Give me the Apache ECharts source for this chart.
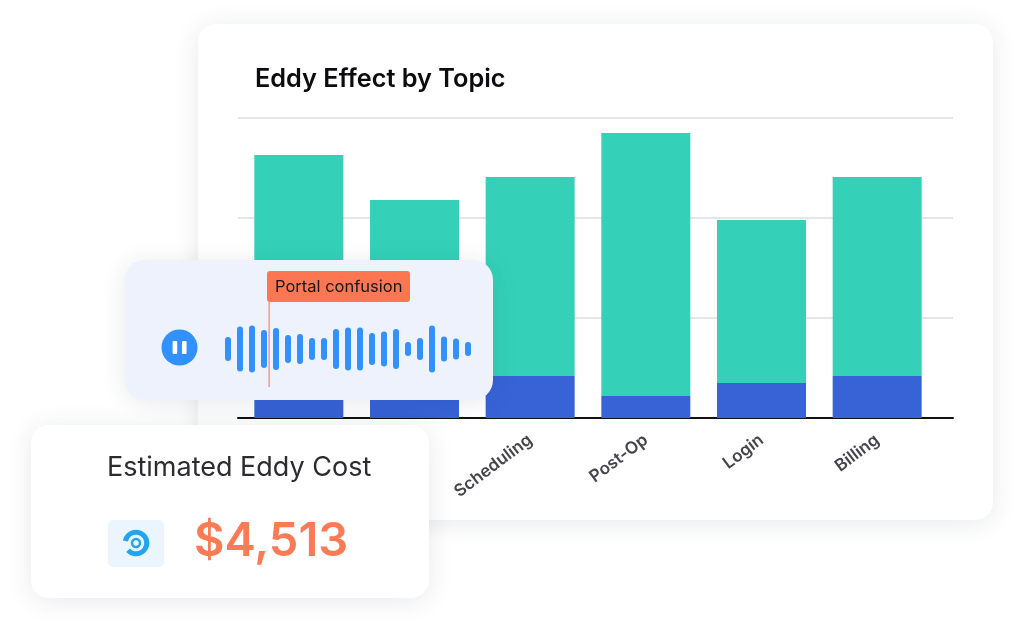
<!DOCTYPE html>
<html><head><meta charset="utf-8">
<style>html,body{margin:0;padding:0;background:#fff}#c{width:1024px;height:622px}</style>
<script src="https://cdn.jsdelivr.net/npm/echarts@6/dist/echarts.min.js"></script>
</head><body><div id="c"></div>
<script>
const categories = ['', '', 'Scheduling', 'Post-Op', 'Login', 'Billing'];
const blueValues = [3.6, 3.6, 8.4, 4.4, 7.0, 8.4];
const tealValues = [49.0, 40.0, 39.8, 52.6, 32.6, 39.8];
const yTicks = [0, 20, 40, 60];
const waveValues = [24,45,47,38,42,28,30,22,22,40,43,43,32,35,40,14,22,47,25,21,14];
const waveSlots = waveValues.map((_, i) => String(i));
const FONT = 'Inter';
const shadow = {shadowBlur: 26, shadowColor: 'rgba(30,40,70,0.10)', shadowOffsetY: 3};

const chart = echarts.init(document.getElementById('c'), null, {renderer: 'canvas'});
chart.setOption({
  animation: false,
  grid: [
    {left: 238, top: 118, width: 715, height: 300},
    {left: 241, top: 118, width: 694, height: 300},
    {left: 222, top: 319, width: 252, height: 60}
  ],
  xAxis: [
    {gridIndex: 0, type: 'category', data: [], axisTick: {show: false}, axisLabel: {show: false},
     axisLine: {lineStyle: {color: '#111', width: 2}}},
    {gridIndex: 1, type: 'category', data: categories, axisTick: {show: false}, axisLine: {show: false},
     axisLabel: {rotate: 37, margin: 20, fontFamily: FONT, fontSize: 17, fontWeight: 600, color: '#45454d', interval: 0}},
    {gridIndex: 2, type: 'category', data: waveSlots, show: false}
  ],
  yAxis: [
    {gridIndex: 0, type: 'value', min: yTicks[0], max: yTicks[3], interval: yTicks[1],
     axisLabel: {show: false}, axisLine: {show: false}, axisTick: {show: false},
     splitLine: {lineStyle: {color: '#e6e6e8', width: 2}}},
    {gridIndex: 1, type: 'value', min: yTicks[0], max: yTicks[3], interval: yTicks[1], show: false, splitLine: {show: false}},
    {gridIndex: 2, type: 'value', min: -30, max: 30, show: false, splitLine: {show: false}}
  ],
  series: [
    {type: 'bar', xAxisIndex: 1, yAxisIndex: 1, stack: 'a', data: blueValues, barWidth: 89, itemStyle: {color: '#3763d6'}, z: 3},
    {type: 'bar', xAxisIndex: 1, yAxisIndex: 1, stack: 'a', data: tealValues, barWidth: 89, itemStyle: {color: '#34d1b8'}, z: 3},
    {type: 'custom', xAxisIndex: 2, yAxisIndex: 2, data: waveValues.map((v, i) => [i, v]), z: 120,
     encode: {x: 0, y: 1},
     renderItem(params, api) {
       const h = api.value(1);
       const top = api.coord([api.value(0), h / 2]);
       const bottom = api.coord([api.value(0), -h / 2]);
       return {type: 'rect', shape: {x: top[0] - 3, y: top[1], width: 6, height: bottom[1] - top[1], r: 3},
               style: {fill: '#3091ff'}};
     }}
  ],
  graphic: [
    {type: 'rect', z: -10, shape: {x: 198, y: 24, width: 795, height: 496, r: 18}, style: {fill: '#fff', ...shadow}},
    {type: 'text', z: 1, x: 255, y: 79, style: {text: 'Eddy Effect by Topic', font: `600 25.3px ${FONT}`, fill: '#0c0c10', textVerticalAlign: 'middle'}},

    {type: 'rect', z: 100, shape: {x: 125, y: 260, width: 368, height: 140, r: 20}, style: {fill: '#edf2fd', ...shadow}},
    {type: 'rect', z: 130, shape: {x: 267, y: 271, width: 143, height: 31, r: 3}, style: {fill: '#fc7751'}},
    {type: 'rect', z: 130, shape: {x: 268.5, y: 302, width: 1.2, height: 85}, style: {fill: '#f58468'}},
    {type: 'text', z: 131, x: 275, y: 287, style: {text: 'Portal confusion', font: `400 16.5px ${FONT}`, fill: '#15151a', textVerticalAlign: 'middle'}},
    {type: 'circle', z: 130, shape: {cx: 179.5, cy: 347.5, r: 18}, style: {fill: '#3091ff'}},
    {type: 'rect', z: 131, shape: {x: 172.6, y: 341, width: 4.6, height: 13, r: 1}, style: {fill: '#fff'}},
    {type: 'rect', z: 131, shape: {x: 182, y: 341, width: 4.6, height: 13, r: 1}, style: {fill: '#fff'}},

    {type: 'rect', z: 140, shape: {x: 31, y: 425, width: 398, height: 173, r: 18}, style: {fill: '#fff', ...shadow}},
    {type: 'text', z: 141, x: 107, y: 468, style: {text: 'Estimated Eddy Cost', font: `400 27px ${FONT}`, fill: '#2b2b30', textVerticalAlign: 'middle'}},
    {type: 'rect', z: 141, shape: {x: 108, y: 520, width: 56, height: 47, r: 5}, style: {fill: '#eaf5fd'}},
    {type: 'arc', z: 142, shape: {cx: 136, cy: 543, r: 10.8, startAngle: -2.95, endAngle: 2.4, clockwise: true}, style: {fill: 'none', stroke: '#22a5ee', lineWidth: 5}},
    {type: 'circle', z: 142, shape: {cx: 136, cy: 543, r: 4}, style: {fill: 'none', stroke: '#22a5ee', lineWidth: 2.5}},
    {type: 'text', z: 141, x: 194, y: 542, style: {text: '$4,513', font: `600 47px ${FONT}`, fill: '#fc7a54', textVerticalAlign: 'middle'}}
  ]
});
</script></body></html>
